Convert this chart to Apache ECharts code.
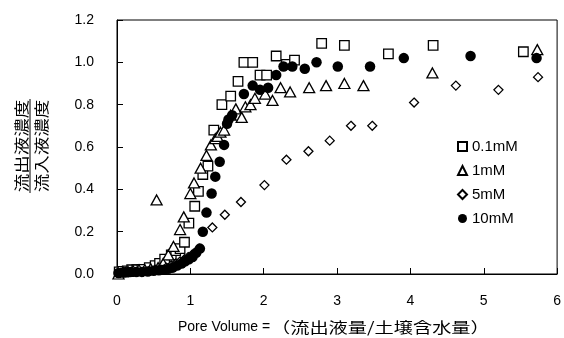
<!DOCTYPE html>
<html>
<head>
<meta charset="utf-8">
<script src="https://cdn.jsdelivr.net/npm/echarts@6/dist/echarts.min.js"></script>
<style>
html,body{margin:0;padding:0;background:#fff;}
#chart{width:564px;height:338px;}
</style>
</head>
<body>
<div id="chart"></div>
<script>
// Series names
var seriesNames = ['0.1mM', '1mM', '5mM', '10mM'];
// Tick labels
var yTicks = ['0.0', '0.2', '0.4', '0.6', '0.8', '1.0', '1.2'];
var xTicks = ['0', '1', '2', '3', '4', '5', '6'];
// Data: [pore volume, C/C0]
var data01 = [[0.03,0.01],[0.08,0.012],[0.14,0.015],[0.2,0.02],[0.27,0.02],[0.34,0.022],[0.44,0.03],[0.52,0.04],[0.58,0.05],[0.65,0.07],[0.74,0.09],[0.8,0.11],[0.86,0.12],[0.92,0.15],[0.98,0.24],[1.06,0.32],[1.11,0.39],[1.17,0.47],[1.24,0.51],[1.32,0.68],[1.43,0.8],[1.55,0.84],[1.65,0.91],[1.73,1.0],[1.85,1.0],[1.95,0.94],[2.04,0.94],[2.17,1.03],[2.31,0.99],[2.42,1.01],[2.79,1.09],[3.1,1.08],[3.7,1.04],[4.31,1.08],[5.54,1.05]];
var data1 = [[0.02,0.0],[0.08,0.01],[0.15,0.012],[0.22,0.015],[0.3,0.02],[0.38,0.02],[0.46,0.025],[0.54,0.35],[0.56,0.03],[0.63,0.05],[0.7,0.09],[0.77,0.13],[0.86,0.21],[0.91,0.27],[1.0,0.38],[1.05,0.43],[1.14,0.5],[1.22,0.56],[1.28,0.61],[1.34,0.64],[1.37,0.65],[1.41,0.67],[1.46,0.68],[1.55,0.75],[1.62,0.78],[1.7,0.74],[1.75,0.79],[1.82,0.8],[1.88,0.83],[2.02,0.85],[2.12,0.82],[2.23,0.88],[2.36,0.86],[2.62,0.88],[2.85,0.89],[3.1,0.9],[3.36,0.89],[4.3,0.95],[5.73,1.06]];
var data5 = [[0.05,0.005],[0.12,0.01],[0.2,0.01],[0.28,0.01],[0.36,0.012],[0.44,0.015],[0.52,0.02],[0.6,0.02],[0.67,0.03],[0.74,0.04],[0.8,0.05],[0.86,0.06],[0.92,0.07],[0.97,0.08],[1.02,0.09],[1.07,0.1],[1.12,0.12],[1.3,0.22],[1.47,0.28],[1.69,0.34],[2.01,0.42],[2.31,0.54],[2.61,0.58],[2.9,0.63],[3.19,0.7],[3.48,0.7],[4.05,0.81],[4.62,0.89],[5.2,0.87],[5.74,0.93]];
var data10 = [[0.02,0.005],[0.1,0.008],[0.18,0.01],[0.26,0.01],[0.34,0.01],[0.42,0.012],[0.5,0.015],[0.57,0.018],[0.64,0.02],[0.7,0.025],[0.76,0.03],[0.82,0.04],[0.88,0.05],[0.93,0.06],[0.98,0.07],[1.03,0.08],[1.08,0.1],[1.13,0.12],[1.17,0.2],[1.22,0.29],[1.29,0.38],[1.34,0.46],[1.4,0.53],[1.46,0.61],[1.5,0.71],[1.52,0.73],[1.57,0.75],[1.73,0.85],[1.85,0.89],[1.95,0.87],[2.06,0.88],[2.17,0.94],[2.27,0.98],[2.39,0.98],[2.56,0.97],[2.72,1.0],[3.01,0.98],[3.45,0.98],[3.91,1.02],[4.82,1.03],[5.72,1.02]];

var latin = 'Liberation Sans, Arial, sans-serif';
var cjk = 'Noto Sans CJK JP, sans-serif';

var chart = echarts.init(document.getElementById('chart'), null, {renderer: 'canvas'});
var hollow = {color: '#fff', borderColor: '#000', borderWidth: 1.3, opacity: 1};
chart.setOption({
  animation: false,
  backgroundColor: '#fff',
  grid: {left: 117, right: 2, top: 20, bottom: 64, show: true, borderColor: '#000', borderWidth: 1},
  legend: {
    orient: 'vertical', left: 452, top: 134, itemWidth: 9, itemHeight: 9, itemGap: 9,
    textStyle: {fontFamily: latin, fontSize: 15, color: '#000'},
    data: seriesNames
  },
  xAxis: {
    type: 'value', min: 0, max: 6, interval: 1,
    axisLine: {show: true, lineStyle: {color: '#000', width: 1}},
    axisTick: {show: true, inside: true, length: 6, lineStyle: {color: '#000'}},
    axisLabel: {margin: 20, fontFamily: latin, fontSize: 14, color: '#000',
      formatter: function (v) { return xTicks[Math.round(v)]; }},
    splitLine: {show: false}
  },
  yAxis: {
    type: 'value', min: 0, max: 1.2, interval: 0.2,
    axisLine: {show: true, lineStyle: {color: '#000', width: 1}},
    axisTick: {show: true, inside: true, length: 6, lineStyle: {color: '#000'}},
    axisLabel: {margin: 23, fontFamily: latin, fontSize: 14, color: '#000',
      formatter: function (v) { return yTicks[Math.round(v * 5)]; }},
    splitLine: {show: false}
  },
  graphic: [
    {type: 'text', x: 178, y: 327, style: {text: 'Pore Volume = ', font: '14px ' + latin, fill: '#000', align: 'left', verticalAlign: 'middle'}},
    {type: 'text', x: 271, y: 327, scaleX: 1.28, style: {text: '（流出液量/土壌含水量）', font: '15px ' + cjk, fill: '#000', align: 'left', verticalAlign: 'middle'}},
    {type: 'text', x: 21, y: 146, rotation: Math.PI / 2, scaleX: 1.23, style: {text: '流出液濃度', font: '15px ' + cjk, fill: '#000', align: 'center', verticalAlign: 'middle'}},
    {type: 'text', x: 41, y: 146, rotation: Math.PI / 2, scaleX: 1.23, style: {text: '流入液濃度', font: '15px ' + cjk, fill: '#000', align: 'center', verticalAlign: 'middle'}},
    {type: 'line', z: 100, shape: {x1: 30, y1: 99, x2: 30, y2: 193}, style: {stroke: '#000', lineWidth: 1}}
  ],
  series: [
    {name: seriesNames[0], type: 'scatter', data: data01, symbol: 'rect', symbolSize: 9.5, itemStyle: hollow, clip: false},
    {name: seriesNames[1], type: 'scatter', data: data1, symbol: 'triangle', symbolSize: [11, 10], itemStyle: hollow, clip: false},
    {name: seriesNames[2], type: 'scatter', data: data5, symbol: 'diamond', symbolSize: [9, 9], itemStyle: hollow, clip: false},
    {name: seriesNames[3], type: 'scatter', data: data10, symbol: 'circle', symbolSize: 10.5, itemStyle: {color: '#000', opacity: 1}, clip: false}
  ]
});
</script>
</body>
</html>
